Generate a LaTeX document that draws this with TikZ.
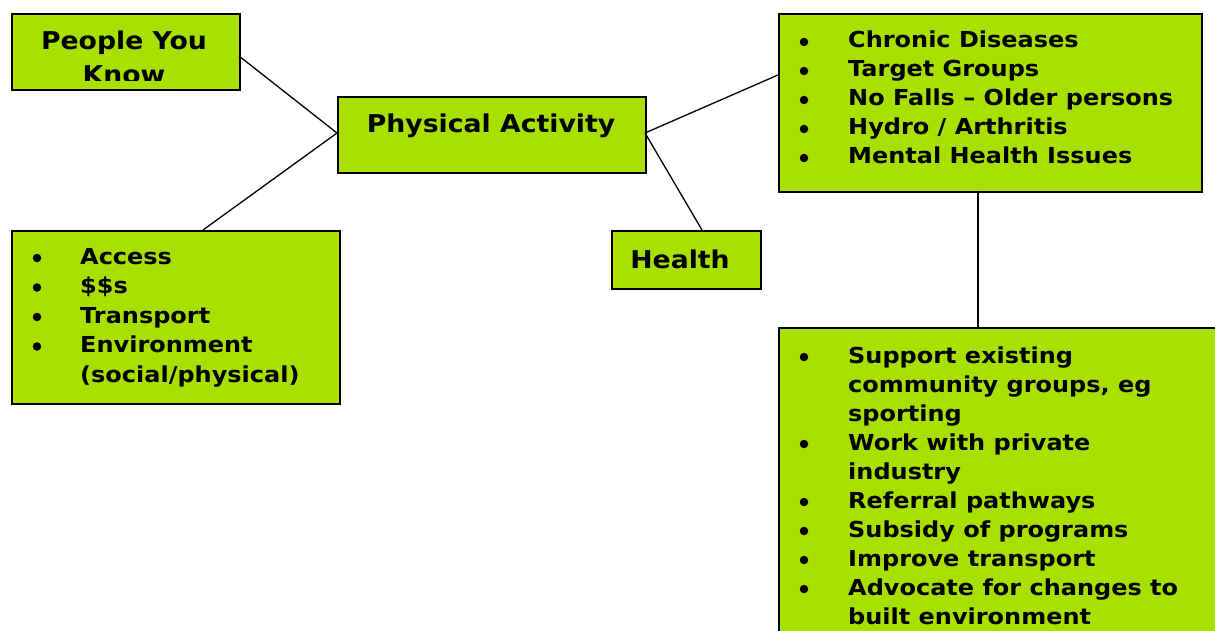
\documentclass[tikz,border=0pt]{standalone}
\usepackage{fontspec}
\setmainfont[FakeStretch=1.09]{DejaVu Sans}
\definecolor{limefill}{RGB}{168,224,0}
\begin{document}
\begin{tikzpicture}[x=1pt,y=-1pt,
  box/.style={draw=black,line width=1.8pt,fill=limefill,inner sep=0pt,anchor=north west},
  txt/.style={font=\bfseries\fontsize{22}{26}\selectfont,anchor=base west,inner sep=0pt},
  ctxt/.style={font=\bfseries\fontsize{24.5}{29}\selectfont,anchor=base,inner sep=0pt},
  dot/.style={circle,fill=black,inner sep=0pt,minimum size=8.5pt},
  link/.style={draw=black,line width=1.3pt}]
\useasboundingbox (0,0) rectangle (1215,631);
\clip (0,0) rectangle (1215,631);

% boxes
\node[box,minimum width=228pt,minimum height=76pt] (people) at (11,13) {};
\node[box,minimum width=308pt,minimum height=76pt] (pa) at (337,96) {};
\node[box,minimum width=149pt,minimum height=58pt] (health) at (611,230) {};
\node[box,minimum width=328pt,minimum height=173pt] (barriers) at (11,230) {};
\node[box,minimum width=423pt,minimum height=178pt] (issues) at (778,13) {};
\node[box,minimum width=450pt,minimum height=320pt] (actions) at (778,327) {};

% connectors
\coordinate (paW) at (337,133);
\coordinate (paE) at (645,133);
\draw[link] (239,56) -- (paW);
\draw[link] (203,230) -- (paW);
\draw[link] (paE) -- (778,75);
\draw[link] (paE) -- (702,230);
\draw[link] (978,191) -- (978,327);

% single labels (the second line of the first box is cut off by its frame)
\begin{scope}
  \clip (11,13) rectangle (239,81);
  \node[ctxt] (t1) at (124,50) {People You};
  \node[ctxt] (t2) at (124,84) {Know};
\end{scope}
\node[ctxt] (t3) at (491,133) {Physical Activity};
\node[ctxt] (t4) at (680,268) {Health};

% bullet lists
\foreach \y/\t [count=\i] in {264/Access,293.5/\$\$s,323/Transport,352.5/Environment,382/{(social/physical)}}
  \node[txt] (b\i) at (80,\y) {\t};
\foreach \y in {264,293.5,323,352.5}
  \node[dot] at (37,\y-6) {};

\foreach \y/\t [count=\i] in {48/Chronic Diseases,77/Target Groups,106/No Falls – Older persons,135/{Hydro / Arthritis},164/Mental Health Issues}
  \node[txt] (c\i) at (848,\y) {\t};
\foreach \y in {48,77,106,135,164}
  \node[dot] at (804,\y-6) {};

\foreach \y/\t [count=\i] in {363/Support existing,392/{community groups, eg},421/sporting,450/Work with private,479/industry,508/Referral pathways,537/Subsidy of programs,566/Improve transport,595/Advocate for changes to,624/built environment}
  \node[txt] (a\i) at (848,\y) {\t};
\foreach \y in {363,450,508,537,566,595}
  \node[dot] at (804,\y-6) {};
\end{tikzpicture}
\end{document}
